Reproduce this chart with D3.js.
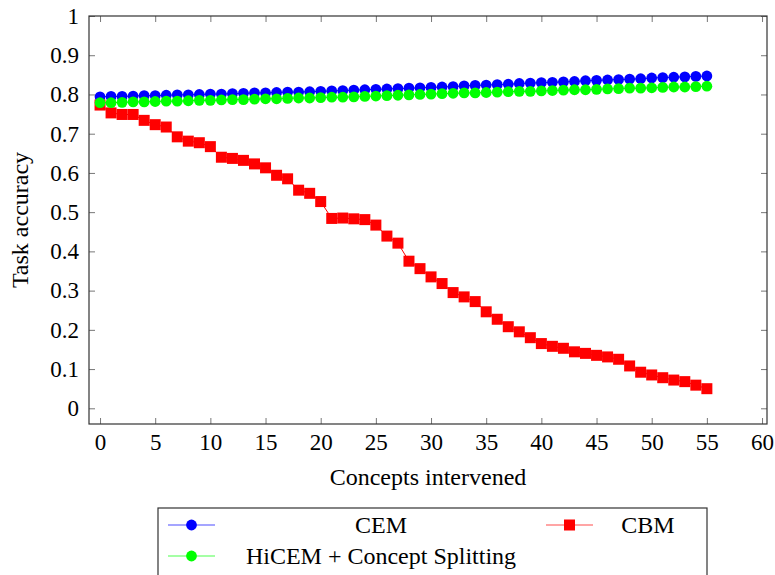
<!DOCTYPE html>
<html>
<head>
<meta charset="utf-8">
<script src="https://cdn.jsdelivr.net/npm/d3@7"></script>
<style>
  html, body { margin: 0; padding: 0; background: #fff; }
  svg { display: block; }
  svg text { font-family: "Liberation Serif", "Times New Roman", Times, serif; fill: #000; }
</style>
</head>
<body>
<svg id="chart" width="775" height="575"></svg>
<script>
const xValues = d3.range(0, 56);
const cem = [0.794,0.795,0.795,0.796,0.797,0.797,0.798,0.799,0.799,0.800,
  0.801,0.801,0.802,0.803,0.804,0.804,0.805,0.806,0.806,0.807,
  0.808,0.809,0.810,0.811,0.812,0.813,0.814,0.815,0.816,0.817,
  0.818,0.819,0.820,0.822,0.823,0.824,0.825,0.826,0.828,0.829,
  0.830,0.831,0.832,0.833,0.835,0.836,0.837,0.838,0.839,0.840,
  0.842,0.843,0.844,0.845,0.846,0.847];
const hicem = [0.779,0.779,0.780,0.781,0.781,0.782,0.783,0.783,0.784,0.785,
  0.785,0.786,0.787,0.787,0.788,0.789,0.789,0.790,0.791,0.791,
  0.792,0.793,0.793,0.794,0.795,0.796,0.797,0.798,0.799,0.800,
  0.801,0.802,0.803,0.804,0.804,0.805,0.806,0.807,0.808,0.808,
  0.809,0.810,0.811,0.812,0.812,0.813,0.814,0.815,0.816,0.816,
  0.817,0.818,0.819,0.819,0.820,0.821];
const cbm = [0.773,0.753,0.749,0.749,0.734,0.723,0.717,0.692,0.681,0.677,
  0.667,0.640,0.637,0.632,0.623,0.613,0.594,0.585,0.556,0.548,
  0.527,0.484,0.485,0.483,0.481,0.467,0.439,0.421,0.375,0.356,
  0.335,0.318,0.295,0.284,0.272,0.246,0.227,0.208,0.195,0.180,
  0.165,0.158,0.153,0.144,0.140,0.135,0.131,0.125,0.108,0.092,
  0.085,0.078,0.072,0.068,0.059,0.050];
const xTicks = [0,5,10,15,20,25,30,35,40,45,50,55,60];
const yTicks = [0,0.1,0.2,0.3,0.4,0.5,0.6,0.7,0.8,0.9,1];
const seriesNames = ["CEM", "CBM", "HiCEM + Concept Splitting"];
const seriesColors = ["#0000ff", "#ff0000", "#00ff00"];
const xLabel = "Concepts intervened";
const yLabel = "Task accuracy";

const FONT = '"Liberation Serif", "Times New Roman", Times, serif';
const svg = d3.select("#chart");
const L = 89, R = 767, T = 16, B = 424;
const x = d3.scaleLinear().domain([-1, 60.45]).range([L, R]);
const y = d3.scaleLinear().domain([-0.04, 1]).range([B, T]);
const fmt = d => String(+d.toFixed(1));
const fsTick = 23;
const fs = 24;
const tickLen = 6;

const gx = svg.append("g").attr("transform", `translate(0,${B})`)
  .call(d3.axisBottom(x).tickValues(xTicks).tickSize(-tickLen).tickPadding(9).tickFormat(d => d));
const gxt = svg.append("g").attr("transform", `translate(0,${T})`)
  .call(d3.axisTop(x).tickValues(xTicks).tickSize(-tickLen).tickFormat(""));
const gy = svg.append("g").attr("transform", `translate(${L},0)`)
  .call(d3.axisLeft(y).tickValues(yTicks).tickSize(-tickLen).tickPadding(10).tickFormat(fmt));
const gyr = svg.append("g").attr("transform", `translate(${R},0)`)
  .call(d3.axisRight(y).tickValues(yTicks).tickSize(-tickLen).tickFormat(""));
[gx, gxt, gy, gyr].forEach(g => {
  g.attr("font-family", FONT).attr("font-size", fsTick);
  g.select(".domain").remove();
  g.selectAll(".tick line").attr("stroke", "#777").attr("stroke-width", 1);
  g.selectAll(".tick text").attr("font-family", FONT).attr("font-size", fsTick).attr("fill", "#000");
});
gx.selectAll(".tick text").attr("dy", "0.72em");

const seriesData = [cem, cbm, hicem];
const line = d3.line().x((d, i) => x(xValues[i])).y(d => y(d));
const plotG = svg.append("g");
[0, 1, 2].forEach(si => {
  const data = seriesData[si];
  const col = seriesColors[si];
  plotG.append("path").datum(data).attr("d", line)
    .attr("fill", "none").attr("stroke", col).attr("stroke-width", 1);
  if (si === 1) {
    plotG.append("g").selectAll("rect").data(data).join("rect")
      .attr("x", (d, i) => x(xValues[i]) - 5.5).attr("y", d => y(d) - 5.5)
      .attr("width", 11).attr("height", 11).attr("fill", col);
  } else {
    plotG.append("g").selectAll("circle").data(data).join("circle")
      .attr("cx", (d, i) => x(xValues[i])).attr("cy", d => y(d))
      .attr("r", 5.4).attr("fill", col);
  }
});

svg.append("rect").attr("x", L).attr("y", T).attr("width", R - L).attr("height", B - T)
  .attr("fill", "none").attr("stroke", "#333").attr("stroke-width", 1.2);

svg.append("text").attr("x", (L + R) / 2).attr("y", 485).attr("text-anchor", "middle")
  .attr("font-family", FONT).attr("font-size", fs).text(xLabel);
svg.append("text").attr("transform", `translate(28,${(T + B) / 2}) rotate(-90)`)
  .attr("text-anchor", "middle").attr("font-family", FONT).attr("font-size", fs).text(yLabel);

const lg = svg.append("g");
lg.append("rect").attr("x", 158).attr("y", 508).attr("width", 549).attr("height", 90)
  .attr("fill", "#fff").attr("stroke", "#333").attr("stroke-width", 1.2);
const entries = [
  { s: 0, lx: 168, tx: 381, ty: 525 },
  { s: 1, lx: 546, tx: 648, ty: 525 },
  { s: 2, lx: 168, tx: 381, ty: 556 }
];
entries.forEach(e => {
  const col = seriesColors[e.s];
  lg.append("line").attr("x1", e.lx).attr("x2", e.lx + 47).attr("y1", e.ty).attr("y2", e.ty)
    .attr("stroke", col).attr("stroke-width", 1).attr("opacity", 0.7);
  if (e.s === 1) {
    lg.append("rect").attr("x", e.lx + 23.5 - 5.5).attr("y", e.ty - 5.5).attr("width", 11).attr("height", 11).attr("fill", col);
  } else {
    lg.append("circle").attr("cx", e.lx + 23.5).attr("cy", e.ty).attr("r", 5.4).attr("fill", col);
  }
  lg.append("text").attr("x", e.tx).attr("y", e.ty).attr("dy", "0.35em").attr("text-anchor", "middle")
    .attr("font-family", FONT).attr("font-size", fs).text(seriesNames[e.s]);
});
</script>
</body>
</html>
